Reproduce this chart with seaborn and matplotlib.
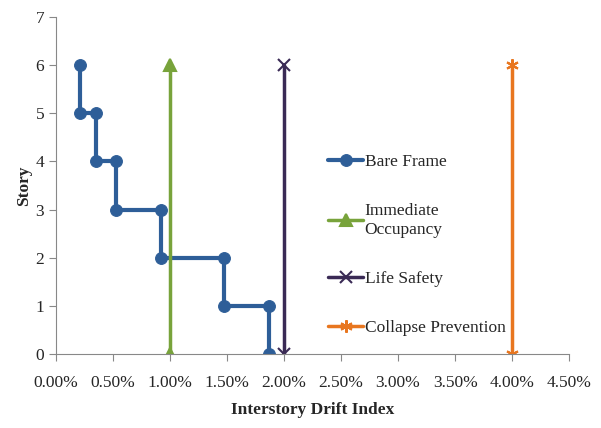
import numpy as np
import pandas as pd
import matplotlib
matplotlib.use('Agg')
import matplotlib.pyplot as plt
import seaborn as sns
from matplotlib.ticker import PercentFormatter

# ── Data ──────────────────────────────────────────────────────────────────────
bare_drift  = [0.21, 0.21, 0.35, 0.35, 0.53, 0.53, 0.92, 0.92, 1.47, 1.47, 1.87, 1.87]
bare_story  = [6, 5, 5, 4, 4, 3, 3, 2, 2, 1, 1, 0]

limit_names = ['Immediate\nOccupancy', 'Life Safety', 'Collapse Prevention']
limit_drift = [1.0, 2.0, 4.0]
limit_story = [0, 6]

x_ticks = [0.0, 0.5, 1.0, 1.5, 2.0, 2.5, 3.0, 3.5, 4.0, 4.5]
y_ticks = [0, 1, 2, 3, 4, 5, 6, 7]

colors  = ['#2E5E98', '#78A33B', '#3A2A55', '#E8761F']
markers = ['o', '^', 'x', (6, 2, 0)]

# ── Plot ──────────────────────────────────────────────────────────────────────
sns.set_style('white')
plt.rcParams['font.family'] = ['Liberation Serif', 'DejaVu Serif']

fig = plt.figure(figsize=(6.01, 4.28), dpi=100)
ax = fig.add_axes([0.093, 0.173, 0.854, 0.787])

df_bare = pd.DataFrame({'drift': bare_drift, 'story': bare_story})
sns.lineplot(data=df_bare, x='drift', y='story', sort=False, estimator=None,
             color=colors[0], lw=3, marker='o', markersize=8.5,
             markeredgecolor=colors[0], label='Bare Frame', ax=ax)

for name, d, c, m in zip(limit_names, limit_drift, colors[1:], markers[1:]):
    df_l = pd.DataFrame({'drift': [d] * len(limit_story), 'story': limit_story})
    kw = dict(markersize=9, markeredgecolor=c, markeredgewidth=1.5)
    sns.lineplot(data=df_l, x='drift', y='story', sort=False, estimator=None,
                 color=c, lw=2.5, marker=m, label=name, ax=ax, **kw)

ax.set_xlim(0, 4.5)
ax.set_ylim(0, 7)
ax.set_xticks(x_ticks)
ax.set_yticks(y_ticks)
ax.xaxis.set_major_formatter(PercentFormatter(xmax=100, decimals=2))
ax.tick_params(axis='both', direction='out', length=5, color='#888888',
               labelsize=12.5, bottom=True, left=True)
ax.tick_params(axis='x', pad=10)
for s in ['top', 'right']:
    ax.spines[s].set_visible(False)
for s in ['left', 'bottom']:
    ax.spines[s].set_color('#888888')
ax.set_xlabel('Interstory Drift Index', fontsize=12.5, fontweight='bold', labelpad=8)
ax.set_ylabel('Story', fontsize=12.5, fontweight='bold', labelpad=2)

ax.legend(loc='upper left', bbox_to_anchor=(0.5, 0.64), frameon=False,
          fontsize=12.5, labelspacing=1.9, handlelength=2.0, handletextpad=0.1)

plt.savefig('out.png', dpi=100)
plt.close()
